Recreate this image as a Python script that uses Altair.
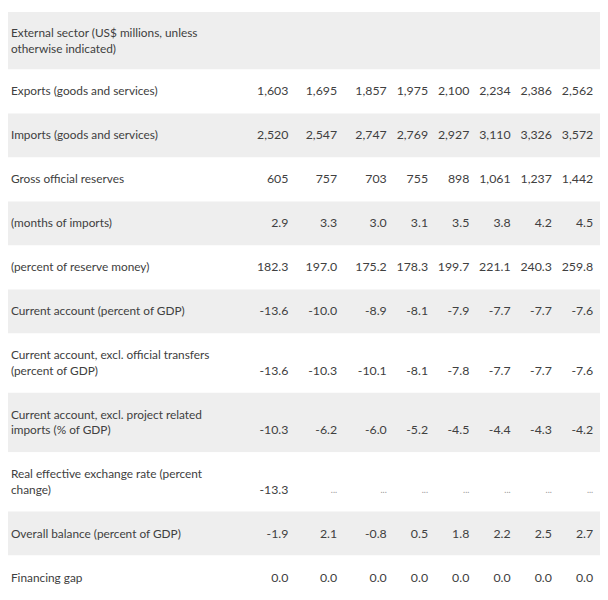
import altair as alt
import pandas as pd

# ---------------- data ----------------
header_label = "External sector (US$ millions, unless\notherwise indicated)"

row_labels = [
    "Exports (goods and services)",
    "Imports (goods and services)",
    "Gross official reserves",
    "(months of imports)",
    "(percent of reserve money)",
    "Current account (percent of GDP)",
    "Current account, excl. official transfers\n(percent of GDP)",
    "Current account, excl. project related\nimports (% of GDP)",
    "Real effective exchange rate (percent\nchange)",
    "Overall balance (percent of GDP)",
    "Financing gap",
]

exports = [1603, 1695, 1857, 1975, 2100, 2234, 2386, 2562]
imports = [2520, 2547, 2747, 2769, 2927, 3110, 3326, 3572]
reserves = [605, 757, 703, 755, 898, 1061, 1237, 1442]
months_imports = [2.9, 3.3, 3.0, 3.1, 3.5, 3.8, 4.2, 4.5]
pct_reserve_money = [182.3, 197.0, 175.2, 178.3, 199.7, 221.1, 240.3, 259.8]
current_account = [-13.6, -10.0, -8.9, -8.1, -7.9, -7.7, -7.7, -7.6]
ca_excl_transfers = [-13.6, -10.3, -10.1, -8.1, -7.8, -7.7, -7.7, -7.6]
ca_excl_project = [-10.3, -6.2, -6.0, -5.2, -4.5, -4.4, -4.3, -4.2]
reer_change = [-13.3, None, None, None, None, None, None, None]
overall_balance = [-1.9, 2.1, -0.8, 0.5, 1.8, 2.2, 2.5, 2.7]
financing_gap = [0.0, 0.0, 0.0, 0.0, 0.0, 0.0, 0.0, 0.0]

series = [exports, imports, reserves, months_imports, pct_reserve_money,
          current_account, ca_excl_transfers, ca_excl_project, reer_change,
          overall_balance, financing_gap]
formats = ["{:,.0f}"] * 3 + ["{:.1f}"] * 8

# ---------------- layout (reference-pixel units) ----------------
W, H = 600, 592
REF_W, REF_H = 608, 600
HEADER_H, SINGLE_H, DOUBLE_H = 59, 45.2, 61
LINE_H = 16

rows, labels, cells = [], [], []
rows.append({"top": 0.0, "bottom": HEADER_H, "shade": "g"})
labels.append({"label": header_label, "y": HEADER_H / 2 - LINE_H / 2})
top = HEADER_H
for i, (lab, vals, fmt) in enumerate(zip(row_labels, series, formats)):
    n = lab.count("\n") + 1
    h = SINGLE_H if n == 1 else DOUBLE_H
    centre = top + h / 2
    rows.append({"top": top, "bottom": top + h, "shade": "g" if (i + 1) % 2 == 0 else "w"})
    labels.append({"label": lab, "y": centre - (n - 1) * LINE_H / 2})
    vy = centre if n == 1 else centre + LINE_H / 2
    for c, v in enumerate(vals):
        if v is None:
            cells.append({"col": c, "y": vy, "txt": "...", "kind": "missing"})
        else:
            cells.append({"col": c, "y": vy, "txt": fmt.format(v), "kind": "value"})
    top += h

rows_df = pd.DataFrame(rows)
labels_df = pd.DataFrame(labels)
cells_df = pd.DataFrame(cells)

k = W / REF_W
yscale = alt.Scale(domain=[0, REF_H], range=[0, H], nice=False, zero=False)
xcol = alt.Scale(domain=[0, 1, 2, 7], range=[288 * k, 338 * k, 389 * k, 601 * k],
                 nice=False, zero=False)

FONT = "Lato"
TXT = "#404040"

bg = alt.Chart(rows_df).mark_rect(clip=True).encode(
    x=alt.value(0), x2=alt.value(W),
    y=alt.Y("top:Q", scale=yscale, axis=None), y2="bottom:Q",
    color=alt.Color("shade:N", scale=alt.Scale(domain=["g", "w"], range=["#eeeeee", "#ffffff"]),
                    legend=None),
)

lab = alt.Chart(labels_df).mark_text(
    align="left", baseline="middle", lineBreak="\n", lineHeight=LINE_H,
    font=FONT, fontSize=12, color=TXT,
).encode(
    x=alt.value(3 * k),
    y=alt.Y("y:Q", scale=yscale, axis=None),
    text="label:N",
)

vals = alt.Chart(cells_df).transform_filter(alt.datum.kind == "value").mark_text(
    align="right", baseline="middle", font=FONT, fontSize=12.5, color=TXT,
).encode(
    x=alt.X("col:Q", scale=xcol, axis=None),
    y=alt.Y("y:Q", scale=yscale, axis=None),
    text="txt:N",
)

miss = alt.Chart(cells_df).transform_filter(alt.datum.kind == "missing").mark_text(
    align="right", baseline="middle", font=FONT, fontSize=9, color="#9a9a9a",
).encode(
    x=alt.X("col:Q", scale=xcol, axis=None),
    y=alt.Y("y:Q", scale=yscale, axis=None),
    text="txt:N",
)

chart = alt.layer(bg, lab, vals, miss).properties(
    width=W, height=H, autosize=alt.AutoSizeParams(type="none"), padding=0,
    background="white",
).configure_view(stroke=None)

chart.save("out.html", embed_options={"renderer": "svg", "actions": False})
